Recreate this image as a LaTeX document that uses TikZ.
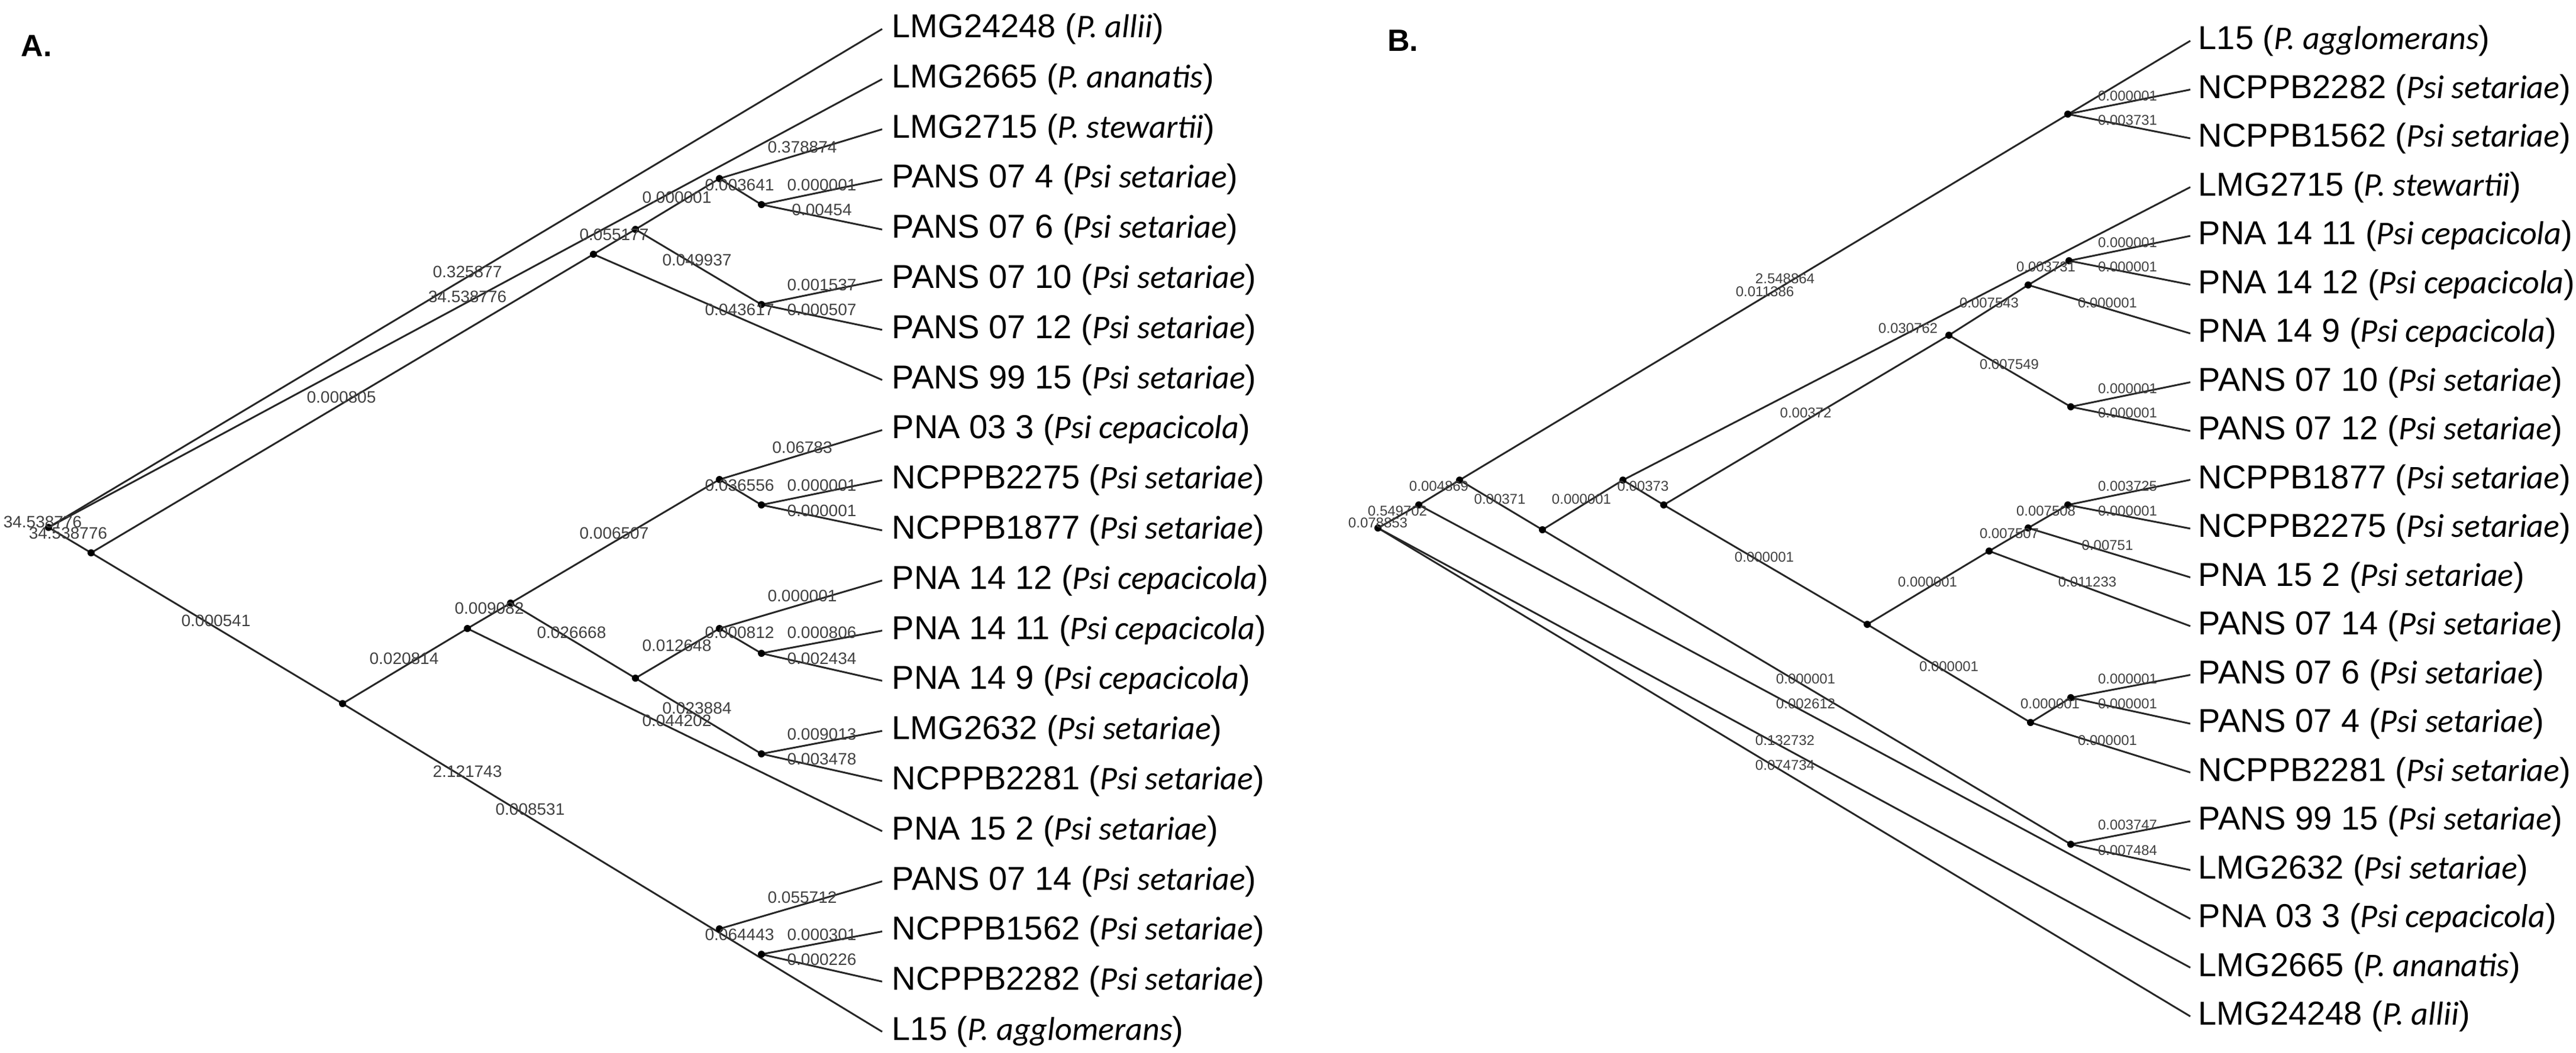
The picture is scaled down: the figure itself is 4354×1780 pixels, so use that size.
\documentclass[tikz,border=0pt]{standalone}
\usepackage{fontspec}
\setmainfont{Liberation Sans}
\newfontfamily\spfont{Carlito}
\begin{document}
\begin{tikzpicture}[
    x=0.25pt, y=-0.25pt,
    br/.style={line width=0.75pt, black!85},
    dot/.style={circle, fill=black, inner sep=0pt, minimum size=3pt},
    tip/.style={anchor=west, inner sep=0pt, font=\fontsize{14}{16}\selectfont},
    lenA/.style={text=black!75, inner sep=0pt, font=\fontsize{7}{8}\selectfont},
    lenB/.style={text=black!75, inner sep=0pt, font=\fontsize{6}{7}\selectfont},
    panel/.style={font=\fontsize{13}{15}\selectfont\bfseries}
  ]
  \useasboundingbox (0,0) rectangle (4354,1780);

  % panel A
  \node[panel] (titleA) at (62,78) {A.};
  \foreach \i/\name/\sp in {0/LMG24248/P. allii, 1/LMG2665/P. ananatis, 2/LMG2715/P. stewartii,
      3/PANS 07 4/Psi setariae, 4/PANS 07 6/Psi setariae, 5/PANS 07 10/Psi setariae,
      6/PANS 07 12/Psi setariae, 7/PANS 99 15/Psi setariae, 8/PNA 03 3/Psi cepacicola,
      9/NCPPB2275/Psi setariae, 10/NCPPB1877/Psi setariae, 11/PNA 14 12/Psi cepacicola,
      12/PNA 14 11/Psi cepacicola, 13/PNA 14 9/Psi cepacicola, 14/LMG2632/Psi setariae,
      15/NCPPB2281/Psi setariae, 16/PNA 15 2/Psi setariae, 17/PANS 07 14/Psi setariae,
      18/NCPPB1562/Psi setariae, 19/NCPPB2282/Psi setariae, 20/L15/P. agglomerans} {
    \coordinate (ta\i) at (1491,{49+84.8*\i});
    \node[tip] (a\i) at (1507,{49+84.8*\i}) {\name\ ({\spfont\itshape\sp})};
  }
  \foreach \n/\x/\y in {ra/82/892, n1/154/935, u1/1003/430, u2/1074/388, u3/1216/302,
      u4/1287/346, u5/1287/515, n2/579/1190, n3/790/1063, n4/863/1020, n11/1216/811,
      n12/1287/854, n5/1074/1147, n6/1216/1063, n7/1287/1105, n8/1287/1275,
      n9/1216/1571, n10/1287/1614}
    \coordinate (\n) at (\x,\y);
  \foreach \p/\q in {ra/ta0, ra/ta1, ra/n1, n1/u1, u1/u2, u2/u3, u3/ta2, u3/u4, u4/ta3,
      u4/ta4, u2/u5, u5/ta5, u5/ta6, u1/ta7, n1/n2, n2/n3, n3/n4, n4/n11, n11/ta8,
      n11/n12, n12/ta9, n12/ta10, n4/n5, n5/n6, n6/ta11, n6/n7, n7/ta12, n7/ta13,
      n5/n8, n8/ta14, n8/ta15, n3/ta16, n2/ta20, n9/ta17, n10/ta18, n10/ta19}
    \draw[br] (\p) -- (\q);
  \foreach \n in {ra, n1, u1, u2, u3, u4, u5, n2, n3, n4, n11, n12, n5, n6, n7, n8, n9, n10}
    \node[dot] at (\n) {};
  \foreach \x/\y/\t in {1356/249/0.378874, 1250/313/0.003641, 1389/313/0.000001,
      1389/355/0.00454, 1144/334/0.000001, 1038/397/0.055177, 1178/440/0.049937,
      790/460/0.325877, 790/502/34.538776, 1389/482/0.001537, 1250/524/0.043617,
      1389/524/0.000507, 577/672/0.000805, 1356/757/0.06783, 1250/821/0.036556,
      1389/821/0.000001, 1389/864/0.000001, 72/883/34.538776, 115/902/34.538776,
      1038/902/0.006507, 827/1029/0.009082, 365/1050/0.000541, 1356/1008/0.000001,
      966/1070/0.026668, 1250/1070/0.000812, 1389/1070/0.000806, 1144/1092/0.012648,
      1389/1114/0.002434, 683/1114/0.020814, 1178/1198/0.023884, 1144/1219/0.044202,
      1389/1242/0.009013, 1389/1284/0.003478, 790/1305/2.121743, 896/1369/0.008531,
      1356/1518/0.055712, 1250/1581/0.064443, 1389/1581/0.000301, 1389/1623/0.000226}
    \node[lenA] at (\x,\y) {\t};

  % panel B
  \node[panel] (titleB) at (2371,69) {B.};
  \foreach \i/\name/\sp in {0/L15/P. agglomerans, 1/NCPPB2282/Psi setariae,
      2/NCPPB1562/Psi setariae, 3/LMG2715/P. stewartii, 4/PNA 14 11/Psi cepacicola,
      5/PNA 14 12/Psi cepacicola, 6/PNA 14 9/Psi cepacicola, 7/PANS 07 10/Psi setariae,
      8/PANS 07 12/Psi setariae, 9/NCPPB1877/Psi setariae, 10/NCPPB2275/Psi setariae,
      11/PNA 15 2/Psi setariae, 12/PANS 07 14/Psi setariae, 13/PANS 07 6/Psi setariae,
      14/PANS 07 4/Psi setariae, 15/NCPPB2281/Psi setariae, 16/PANS 99 15/Psi setariae,
      17/LMG2632/Psi setariae, 18/PNA 03 3/Psi cepacicola, 19/LMG2665/P. ananatis,
      20/LMG24248/P. allii} {
    \coordinate (tb\i) at (3702,{69+82.5*\i});
    \node[tip] (b\i) at (3715,{69+82.5*\i}) {\name\ ({\spfont\itshape\sp})};
  }
  \foreach \n/\x/\y in {rb/2329/893, q1/2398/854, q2/2467/812, m1/3495/193, q3/2607/896,
      q4/2743/812, q5/2812/854, q6/3294/567, m3/3428/482, m2/3497/441, m4/3500/688,
      q7/3156/1056, q8/3362/932, q9/3428/893, m5/3495/854, q10/3432/1222,
      m6/3500/1180, m7/3500/1428}
    \coordinate (\n) at (\x,\y);
  \foreach \p/\q in {rb/q1, rb/tb19, rb/tb20, q1/q2, q1/tb18, q2/tb0, m1/tb1, m1/tb2,
      q2/q3, q3/q4, q3/m7, m7/tb16, m7/tb17, q4/tb3, q4/q5, q5/q6, q6/m3, m3/m2,
      m2/tb4, m2/tb5, m3/tb6, q6/m4, m4/tb7, m4/tb8, q5/q7, q7/q8, q8/q9, q9/m5,
      m5/tb9, m5/tb10, q9/tb11, q8/tb12, q7/q10, q10/m6, m6/tb13, m6/tb14, q10/tb15}
    \draw[br] (\p) -- (\q);
  \foreach \n in {rb, q1, q2, m1, q3, q4, q5, q6, m3, m2, m4, q7, q8, q9, m5, q10, m6, m7}
    \node[dot] at (\n) {};
  \foreach \x/\y/\t in {3596/162/0.000001, 3596/203/0.003731, 3596/410/0.000001,
      3596/451/0.000001, 3562/512/0.000001, 3458/451/0.003731, 3362/512/0.007543,
      3396/616/0.007549, 3596/657/0.000001, 3596/698/0.000001, 3225/555/0.030762,
      2777/822/0.00373, 3052/698/0.00372, 2673/844/0.000001, 3017/471/2.548864,
      2983/493/0.011386, 2535/844/0.00371, 2432/822/0.004869, 2362/864/0.549702,
      2329/884/0.078853, 2982/942/0.000001, 3258/984/0.000001, 3396/902/0.007507,
      3458/864/0.007508, 3562/922/0.00751, 3596/822/0.003725, 3596/864/0.000001,
      3528/984/0.011233, 3294/1127/0.000001, 3465/1190/0.000001, 3562/1252/0.000001,
      3596/1148/0.000001, 3596/1190/0.000001, 3596/1395/0.003747, 3596/1438/0.007484,
      3052/1148/0.000001, 3052/1190/0.002612, 3017/1252/0.132732, 3017/1294/0.074734}
    \node[lenB] at (\x,\y) {\t};
\end{tikzpicture}
\end{document}
